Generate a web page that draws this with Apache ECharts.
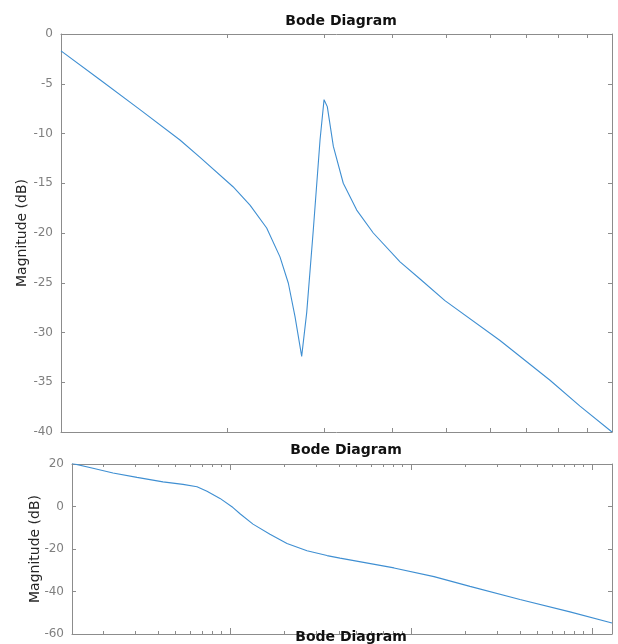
<!DOCTYPE html>
<html><head><meta charset="utf-8">
<script src="https://cdn.jsdelivr.net/npm/echarts@6/dist/echarts.min.js"></script>
<style>html,body{margin:0;padding:0;background:#fff}#c{width:618px;height:644px}</style>
</head><body><div id="c"></div>
<script>
// ---- data ----
const titles = ['Bode Diagram', 'Bode Diagram', 'Bode Diagram'];
const yLabel = 'Magnitude (dB)';

// upper panel (frequency, magnitude dB)
const topFreq = [1.000, 1.177, 1.391, 1.644, 1.788, 2.052, 2.203, 2.362, 2.497, 2.586, 2.659, 2.734, 2.792, 2.870, 2.952, 3.002, 3.043, 3.121, 3.253, 3.441, 3.688, 4.124, 4.500, 4.975, 6.263, 7.718, 8.748, 10.0];
const topMag  = [-1.7, -4.6, -7.6, -10.65, -12.4, -15.35, -17.2, -19.5, -22.4, -25.05, -28.4, -32.4, -28.0, -19.7, -10.65, -6.6, -7.3, -11.3, -15.0, -17.7, -20.0, -22.9, -24.7, -26.8, -30.8, -34.8, -37.4, -40.0];

// lower panel
const botFreq = [1.340, 1.750, 2.258, 3.063, 4.264, 5.500, 6.573, 7.463, 8.806, 10.39, 11.36, 13.40, 16.63, 20.65, 26.64, 34.36, 40.53, 80.55, 134.0, 211.8, 400.1, 755.9, 1290];
const botMag  = [20.3, 18.0, 15.8, 13.7, 11.6, 10.4, 9.3, 7.2, 3.8, -0.5, -3.4, -8.3, -13.1, -17.4, -20.8, -23.1, -24.3, -28.9, -33.0, -37.6, -43.8, -49.6, -54.8];

const topTicks = [2, 3, 4, 5, 6, 7, 8, 9];
const botMinorTicks = [2, 3, 4, 5, 6, 7, 8, 9, 20, 30, 40, 50, 60, 70, 80, 90, 200, 300, 400, 500, 600, 700, 800, 900];
const botMajorTicks = [10, 100, 1000];

// ---- style ----
const GRAY = '#8c8c8c';
const LINE = '#3f8fd2';
const FONT = 'DejaVu Sans';

function xAx(g, pos, min, max, ticks, len, showLine) {
  return {
    type: 'log', logBase: 10, gridIndex: g, position: pos, min: min, max: max,
    axisLine: { show: showLine, onZero: false, lineStyle: { color: GRAY, width: 1 } },
    axisTick: { show: true, inside: true, length: len, customValues: ticks, lineStyle: { color: GRAY } },
    axisLabel: { show: false }, splitLine: { show: false }, minorTick: { show: false }
  };
}
function yAx(g, pos, min, max, interval, withLabel, gap) {
  const a = {
    type: 'value', gridIndex: g, position: pos, min: min, max: max, interval: interval,
    axisLine: { show: true, onZero: false, lineStyle: { color: GRAY, width: 1 } },
    axisTick: { show: true, inside: true, length: 4, lineStyle: { color: GRAY } },
    axisLabel: { show: withLabel, color: '#7f7f7f', fontSize: 12, fontFamily: FONT, margin: 8 },
    splitLine: { show: false }
  };
  if (withLabel) {
    a.name = yLabel; a.nameLocation = 'middle'; a.nameGap = gap; a.nameMoveOverlap = false;
    a.nameTextStyle = { color: '#262626', fontSize: 14, fontFamily: FONT };
  }
  return a;
}

const titleStyle = { fontFamily: FONT, fontSize: 14, fontWeight: 'bold', color: '#111' };
const chart = echarts.init(document.getElementById('c'), null, { renderer: 'canvas' });
chart.setOption({
  animation: false,
  backgroundColor: '#fff',
  title: [
    { text: titles[0], left: 336, top: 9, textAlign: 'center', textStyle: titleStyle },
    { text: titles[1], left: 341, top: 438, textAlign: 'center', textStyle: titleStyle },
    { text: titles[2], left: 346, top: 625, textAlign: 'center', textStyle: titleStyle }
  ],
  grid: [
    { left: 61, right: 6, top: 34, height: 398, containLabel: false },
    { left: 72, right: 6, top: 464, height: 170, containLabel: false }
  ],
  xAxis: [
    xAx(0, 'bottom', 1, 10, topTicks, 4, true),
    xAx(0, 'top', 1, 10, topTicks, 4, true),
    xAx(1, 'bottom', 1.34, 1290, botMinorTicks, 3, true),
    xAx(1, 'top', 1.34, 1290, botMinorTicks, 3, true),
    xAx(1, 'bottom', 1.34, 1290, botMajorTicks, 6, false),
    xAx(1, 'top', 1.34, 1290, botMajorTicks, 6, false)
  ],
  yAxis: [
    yAx(0, 'left', -40, 0, 5, true, 32),
    yAx(0, 'right', -40, 0, 5, false),
    yAx(1, 'left', -60, 20, 20, true, 30),
    yAx(1, 'right', -60, 20, 20, false)
  ],
  series: [
    { type: 'line', xAxisIndex: 0, yAxisIndex: 0, showSymbol: false, smooth: false,
      lineStyle: { color: LINE, width: 1.1 }, data: topFreq.map((f, i) => [f, topMag[i]]) },
    { type: 'line', xAxisIndex: 2, yAxisIndex: 2, showSymbol: false, smooth: false,
      lineStyle: { color: LINE, width: 1.1 }, data: botFreq.map((f, i) => [f, botMag[i]]) }
  ]
});
</script></body></html>
